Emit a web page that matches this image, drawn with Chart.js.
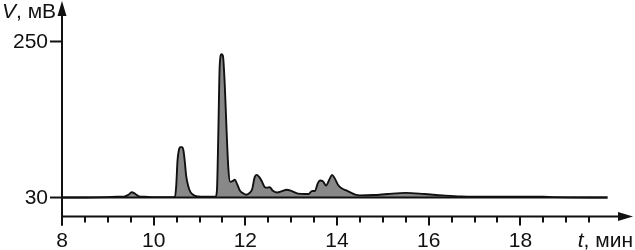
<!DOCTYPE html>
<html>
<head>
<meta charset="utf-8">
<script src="https://cdn.jsdelivr.net/npm/chart.js@4.4.1/dist/chart.umd.min.js"></script>
<style>
html,body{margin:0;padding:0;background:#fff;}
#wrap{width:635px;height:250px;position:relative;}
</style>
</head>
<body>
<div id="wrap"><canvas id="c" width="635" height="250"></canvas></div>
<script>
// Retention times (min) and detector signal (mV)
const times = [8.0,8.5,9.0,9.2,9.35,9.45,9.52,9.6,9.68,9.8,10.0,10.4,10.46,10.49,10.52,10.55,10.58,10.62,10.65,10.68,10.71,10.75,10.8,10.88,10.97,11.1,11.35,11.38,11.41,11.44,11.48,11.51,11.55,11.59,11.63,11.67,11.72,11.77,11.82,11.88,11.95,12.02,12.1,12.15,12.2,12.25,12.3,12.35,12.42,12.48,12.53,12.6,12.7,12.8,12.9,13.0,13.15,13.3,13.38,13.45,13.52,13.58,13.63,13.69,13.76,13.83,13.89,13.95,14.02,14.1,14.2,14.3,14.4,14.5,14.8,15.1,15.5,15.9,16.3,16.7,17.5,18.5,18.7,19.9];
const signal = [30,30,30.5,31,31,34,37.5,35,31.5,31,30.5,30.5,31,45,82,97,101,101,96,80,60,47,38,33,31.5,31,31,40,120,215,232,230,190,125,70,52,53,55,49,40,36,34,37,42,58,62,59,54,45,44,44.5,39.5,37,39,41,39.5,35.5,35,35,39,39.5,50,54,53,47,55,62,57,48,43,40,37,34,33,33.5,35,36.5,35,33,31.5,31,31,30.5,30];
const baselineLevel = 30;
const xMajorTicks = [8,10,12,14,16,18];
const xMinorTicks = [8.5,9,9.5,10.5,11,11.5,12.5,13,13.5,14.5,15,15.5,16.5,17,17.5,18.5,19,19.5];
const yTicks = [30,250];
const xRange = [8, 20.5];
const yRange = [0, 308.5];
const yAxisTitle = ['V', ', мВ'];
const xAxisTitle = ['t', ', мин'];

const pts = times.map((t,i)=>({x:t,y:signal[i]}));
const basePts = [{x:times[0],y:baselineLevel},{x:times[times.length-1],y:baselineLevel}];

const FONT = '"Liberation Sans", Arial, Helvetica, sans-serif';
const FS = 21;

const axesPlugin = {
  id:'axes',
  afterDatasetsDraw(chart){
    const ctx = chart.ctx;
    const xs = chart.scales.x, ys = chart.scales.y;
    const x0 = xs.getPixelForValue(xRange[0]);
    const yAxisY = ys.getPixelForValue(3.2);
    const xEnd = 633;
    ctx.save();
    ctx.strokeStyle = '#111';
    ctx.fillStyle = '#111';
    ctx.lineWidth = 2;
    ctx.lineCap = 'butt';
    // y axis
    ctx.beginPath();
    ctx.moveTo(x0, yAxisY + 9);
    ctx.lineTo(x0, 12);
    ctx.stroke();
    ctx.beginPath();
    ctx.moveTo(x0, 1);
    ctx.lineTo(x0 - 4.5, 16);
    ctx.lineTo(x0 + 4.5, 16);
    ctx.closePath();
    ctx.fill();
    // x axis
    ctx.beginPath();
    ctx.moveTo(x0 - 1, yAxisY);
    ctx.lineTo(xEnd - 10, yAxisY);
    ctx.stroke();
    ctx.beginPath();
    ctx.moveTo(xEnd, yAxisY);
    ctx.lineTo(xEnd - 15, yAxisY - 4.5);
    ctx.lineTo(xEnd - 15, yAxisY + 4.5);
    ctx.closePath();
    ctx.fill();
    // x ticks
    xMajorTicks.forEach(v=>{
      const px = Math.round(xs.getPixelForValue(v));
      ctx.beginPath(); ctx.moveTo(px, yAxisY); ctx.lineTo(px, yAxisY + 9); ctx.stroke();
    });
    xMinorTicks.forEach(v=>{
      const px = Math.round(xs.getPixelForValue(v));
      ctx.beginPath(); ctx.moveTo(px, yAxisY); ctx.lineTo(px, yAxisY + 6); ctx.stroke();
    });
    // y ticks
    yTicks.forEach(v=>{
      const py = ys.getPixelForValue(v);
      ctx.beginPath(); ctx.moveTo(x0 - 12, py); ctx.lineTo(x0, py); ctx.stroke();
    });
    // labels
    ctx.font = FS + 'px ' + FONT;
    ctx.textAlign = 'center';
    ctx.textBaseline = 'alphabetic';
    xMajorTicks.forEach(v=>{
      ctx.fillText(String(v), xs.getPixelForValue(v), 246.5);
    });
    ctx.textAlign = 'right';
    ctx.textBaseline = 'middle';
    yTicks.forEach(v=>{
      ctx.fillText(String(v), x0 - 14, ys.getPixelForValue(v) + 1);
    });
    // axis titles
    ctx.textBaseline = 'alphabetic';
    ctx.textAlign = 'left';
    ctx.font = 'italic ' + FS + 'px ' + FONT;
    ctx.fillText(yAxisTitle[0], 2, 17.5);
    const wV = ctx.measureText(yAxisTitle[0]).width;
    ctx.font = FS + 'px ' + FONT;
    ctx.fillText(yAxisTitle[1], 2 + wV, 17.5);
    // x title right-aligned at 633
    ctx.font = FS + 'px ' + FONT;
    const wRest = ctx.measureText(xAxisTitle[1]).width;
    ctx.font = 'italic ' + FS + 'px ' + FONT;
    const wT = ctx.measureText(xAxisTitle[0]).width;
    const startX = 633 - wRest - wT;
    ctx.fillText(xAxisTitle[0], startX, 246.5);
    ctx.font = FS + 'px ' + FONT;
    ctx.fillText(xAxisTitle[1], startX + wT, 246.5);
    ctx.restore();
  }
};

new Chart(document.getElementById('c'), {
  type:'line',
  data:{
    datasets:[
      {
        data: pts,
        borderColor:'#111',
        borderWidth:1.9,
        backgroundColor:'#888888',
        fill:{value: baselineLevel},
        pointRadius:0,
        cubicInterpolationMode:'monotone',
        order:2
      },
      {
        data: basePts,
        borderColor:'#111',
        borderWidth:2,
        pointRadius:0,
        fill:false,
        order:1
      }
    ]
  },
  options:{
    responsive:false,
    animation:false,
    devicePixelRatio:1,
    layout:{padding:{left:62, right:0, top:0, bottom:31.2}},
    plugins:{legend:{display:false}, tooltip:{enabled:false}},
    scales:{
      x:{type:'linear', min:xRange[0], max:xRange[1], display:false},
      y:{type:'linear', min:yRange[0], max:yRange[1], display:false}
    }
  },
  plugins:[axesPlugin]
});
</script>
</body>
</html>
